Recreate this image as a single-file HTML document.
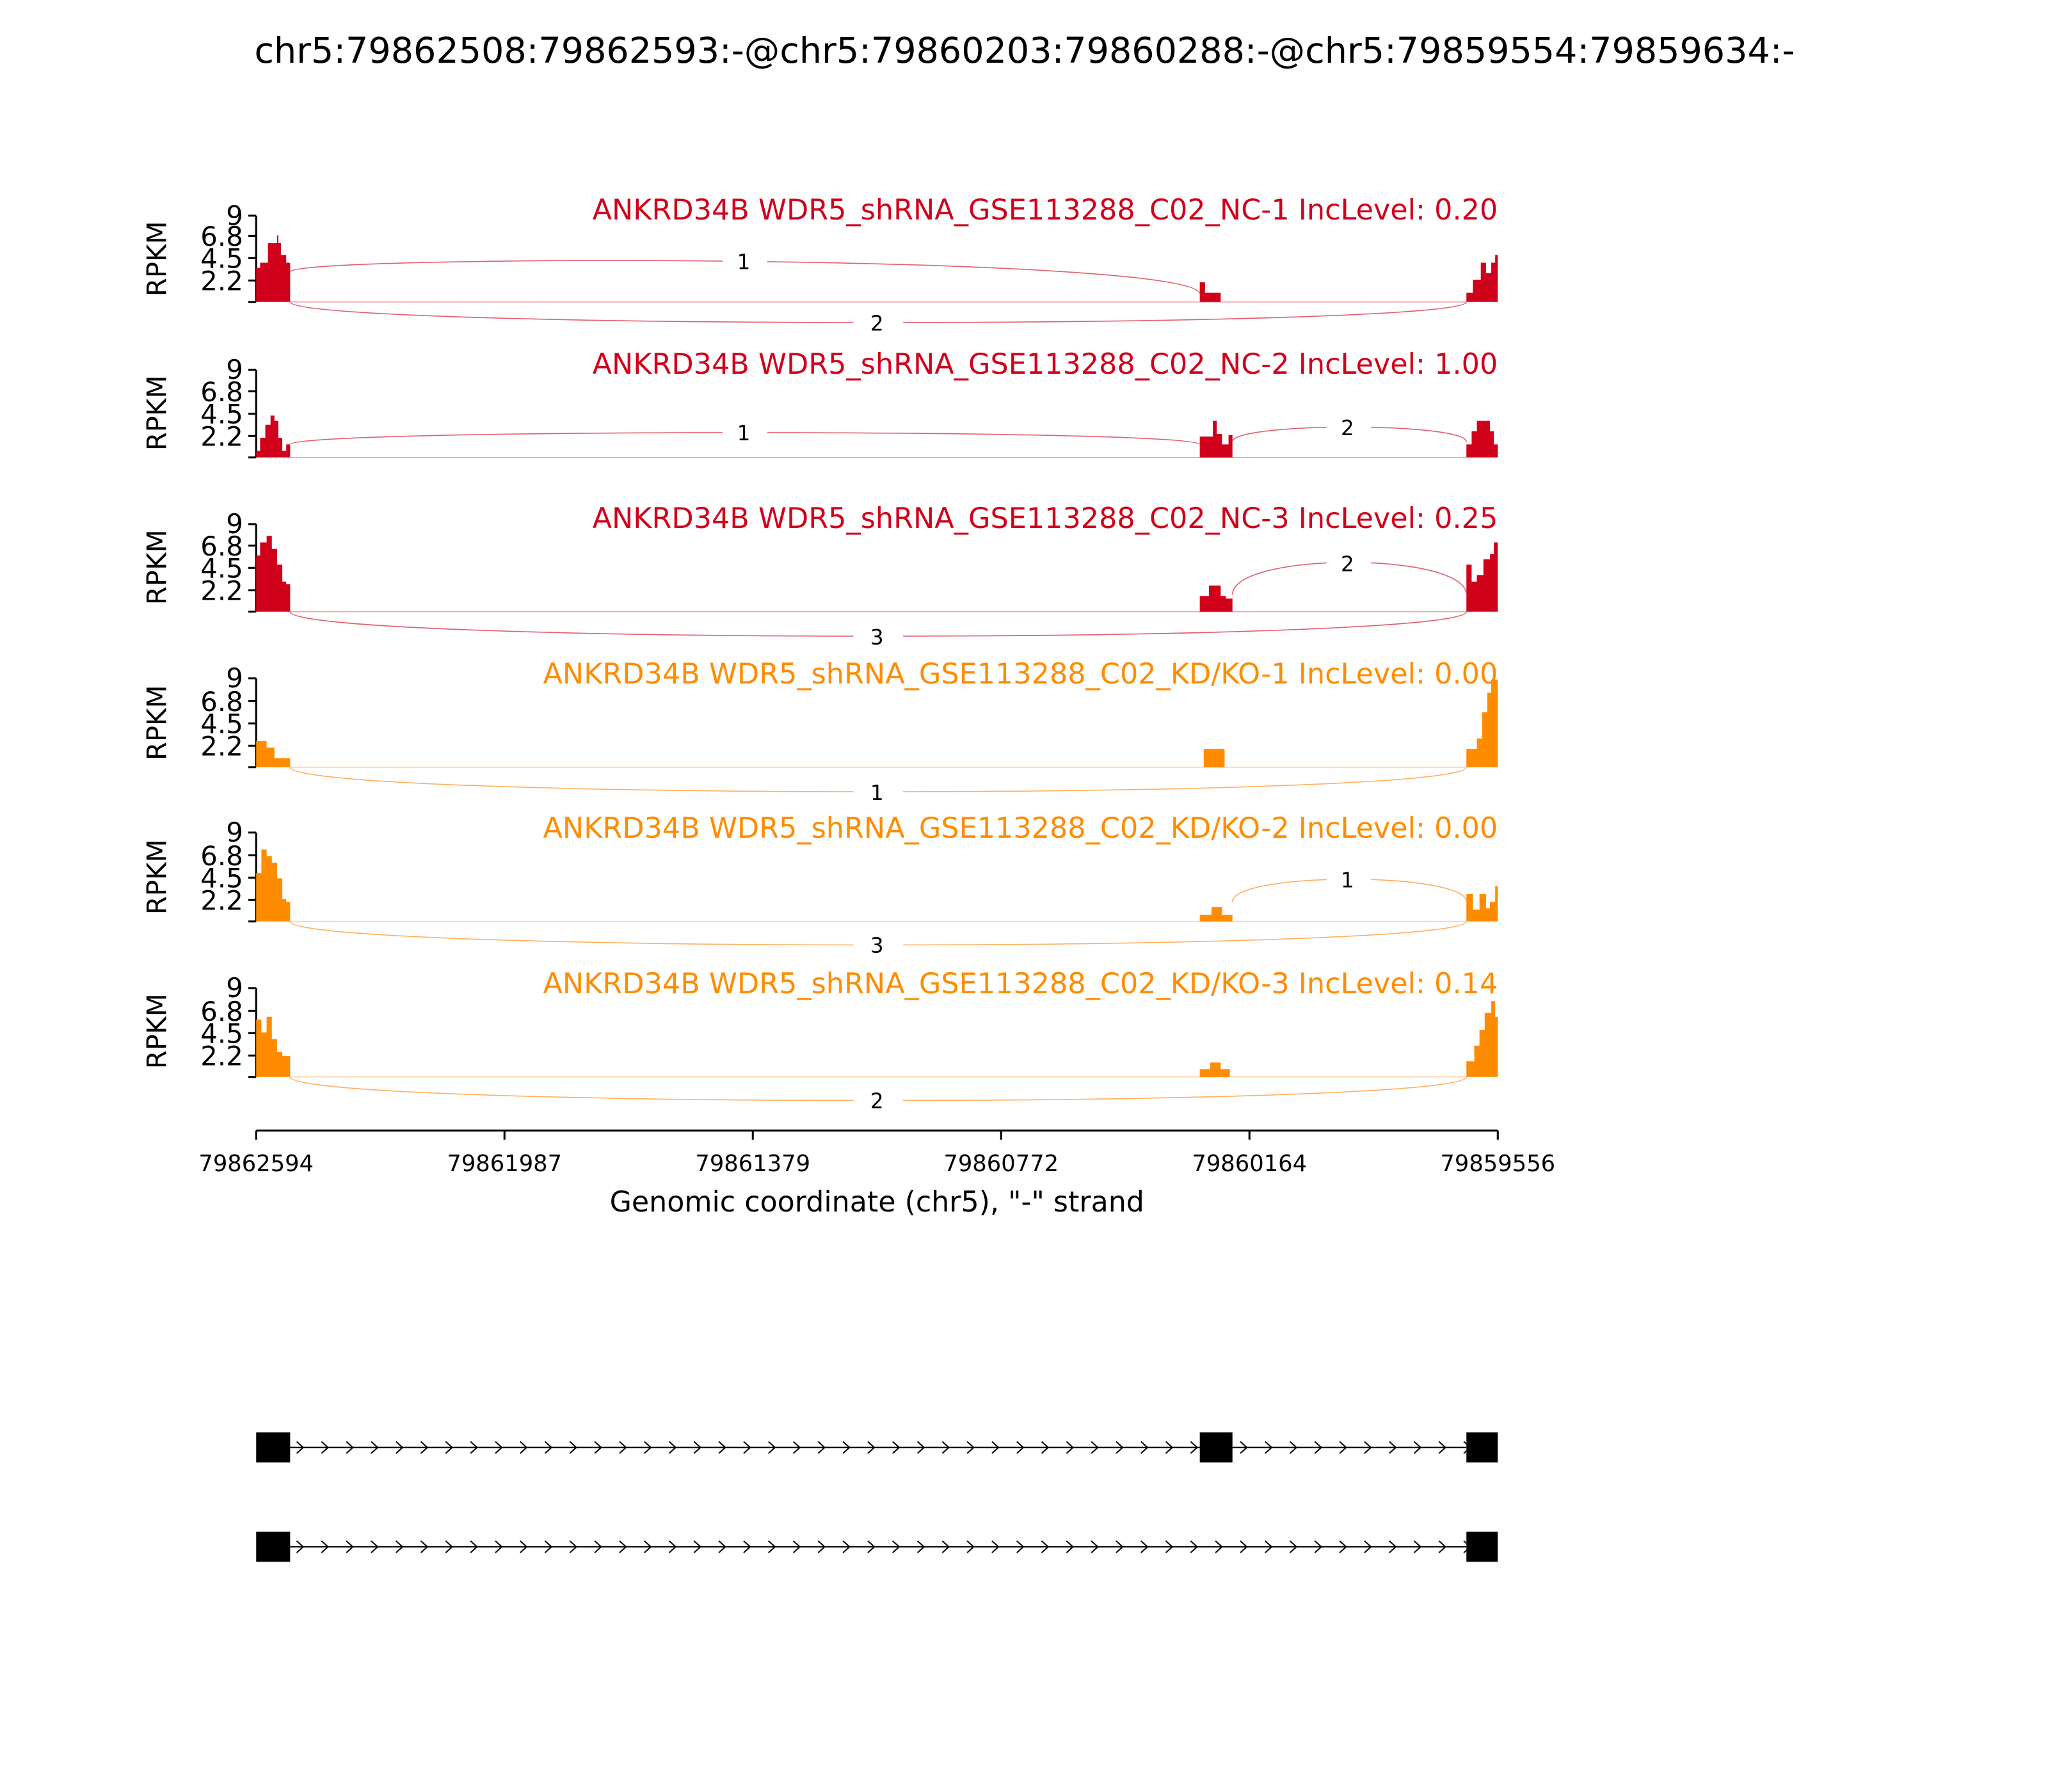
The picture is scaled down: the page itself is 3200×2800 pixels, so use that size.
<!DOCTYPE html>
<html><head><meta charset="utf-8"><style>html,body{margin:0;padding:0;background:#fff}svg{display:block}</style></head>
<body>
<svg width="3200" height="2800" viewBox="0 0 1567 1371.1" xmlns="http://www.w3.org/2000/svg" font-family="'DejaVu Sans','Liberation Sans',sans-serif">
<defs>
<pattern id="chev" x="222" y="0" width="19" height="1371.1" patternUnits="userSpaceOnUse">
<path d="M5 1103 L10 1107.5 L5 1112 M5 1179 L10 1183.5 L5 1188" fill="none" stroke="#000" stroke-width="1"/>
</pattern>
</defs>
<rect width="1567" height="1371.1" fill="#fff"/>
<text x="784" y="48" font-size="27.2" text-anchor="middle">chr5:79862508:79862593:-@chr5:79860203:79860288:-@chr5:79859554:79859634:-</text>

<g font-size="20.5">
<g stroke="#000" stroke-width="1.5" fill="none">
<path d="M196 165V231M190 165H196M190 214.6H196M190 197.5H196M190 180.4H196M190 231H196"/>
<path d="M196 283V350M190 283H196M190 333.6H196M190 316.5H196M190 299.4H196M190 350H196"/>
<path d="M196 401V468M190 401H196M190 451.6H196M190 434.5H196M190 417.4H196M190 468H196"/>
<path d="M196 519V587M190 519H196M190 570.6H196M190 553.5H196M190 536.4H196M190 587H196"/>
<path d="M196 637V705M190 637H196M190 688.6H196M190 671.5H196M190 654.4H196M190 705H196"/>
<path d="M196 756V824M190 756H196M190 807.6H196M190 790.5H196M190 773.4H196M190 824H196"/>
</g>
<g text-anchor="end">
<text x="186" y="172">9</text><text x="186" y="188">6.8</text><text x="186" y="205">4.5</text><text x="186" y="222">2.2</text>
<text x="186" y="290">9</text><text x="186" y="307">6.8</text><text x="186" y="324">4.5</text><text x="186" y="341">2.2</text>
<text x="186" y="408">9</text><text x="186" y="425">6.8</text><text x="186" y="442">4.5</text><text x="186" y="459">2.2</text>
<text x="186" y="526">9</text><text x="186" y="544">6.8</text><text x="186" y="561">4.5</text><text x="186" y="578">2.2</text>
<text x="186" y="644">9</text><text x="186" y="662">6.8</text><text x="186" y="679">4.5</text><text x="186" y="696">2.2</text>
<text x="186" y="763">9</text><text x="186" y="781">6.8</text><text x="186" y="798">4.5</text><text x="186" y="815">2.2</text>
</g>
<g text-anchor="middle">
<text transform="translate(127,198) rotate(-90)">RPKM</text>
<text transform="translate(127,316) rotate(-90)">RPKM</text>
<text transform="translate(127,434) rotate(-90)">RPKM</text>
<text transform="translate(127,553) rotate(-90)">RPKM</text>
<text transform="translate(127,671) rotate(-90)">RPKM</text>
<text transform="translate(127,789) rotate(-90)">RPKM</text>
</g>
<g text-anchor="end" font-size="21.8">
<text x="1146" y="168" fill="#d0021b">ANKRD34B WDR5_shRNA_GSE113288_C02_NC-1 IncLevel: 0.20</text>
<text x="1146" y="286" fill="#d0021b">ANKRD34B WDR5_shRNA_GSE113288_C02_NC-2 IncLevel: 1.00</text>
<text x="1146" y="404" fill="#d0021b">ANKRD34B WDR5_shRNA_GSE113288_C02_NC-3 IncLevel: 0.25</text>
<text x="1146" y="523" fill="#ff8c00">ANKRD34B WDR5_shRNA_GSE113288_C02_KD/KO-1 IncLevel: 0.00</text>
<text x="1146" y="641" fill="#ff8c00">ANKRD34B WDR5_shRNA_GSE113288_C02_KD/KO-2 IncLevel: 0.00</text>
<text x="1146" y="760" fill="#ff8c00">ANKRD34B WDR5_shRNA_GSE113288_C02_KD/KO-3 IncLevel: 0.14</text>
</g>
</g>

<g stroke-width="0.8" fill="none">
<path d="M222 231H1122M222 350H1122M222 468H1122" stroke="#f0a0a8"/>
<path d="M222 587H1122M222 705H1122M222 824H1122" stroke="#ffd0a0"/>
</g>

<g fill="#d0021b">
<path d="M196 231V205H199V201H205V186H212V180H213V186H215V195H219V201H222V231Z"/>
<path d="M918 231V216H922V224H934V231Z"/>
<path d="M1122 231V224H1127V214H1133V201H1137V209H1141V201H1144V195H1146V231Z"/>
<path d="M196 350V345H199V335H203V325H207V318H210V322H213V335H216V345H219V340H222V350Z"/>
<path d="M918 350V334H928V322H931V332H935V340H940V333H943V350Z"/>
<path d="M1122 350V340H1126V330H1130V322H1140V330H1143V340H1146V350Z"/>
<path d="M196 468V425H199V415H204V410H208V420H212V432H216V445H219V447H222V468Z"/>
<path d="M918 468V456H925V448H934V456H938V458H943V468Z"/>
<path d="M1122 468V432H1126V445H1130V440H1135V428H1140V424H1143V415H1146V468Z"/>
</g>
<g fill="#ff8c00">
<path d="M196 587V567H204V572H210V580H222V587Z"/>
<path d="M921 587V573H937V587Z"/>
<path d="M1122 587V573H1130V565H1134V545H1138V530H1141V520H1146V587Z"/>
<path d="M196 705V668H200V650H204V655H208V660H212V672H216V688H219V690H222V705Z"/>
<path d="M918 705V700H927V694H935V700H943V705Z"/>
<path d="M1122 705V684H1127V696H1132V684H1137V695H1140V690H1144V678H1146V705Z"/>
<path d="M196 824V780H200V790H204V778H208V795H212V805H216V808H222V824Z"/>
<path d="M918 824V818H926V813H934V818H941V824Z"/>
<path d="M1122 824V812H1128V800H1132V788H1136V775H1141V766H1144V778H1146V824Z"/>
</g>

<g fill="none" stroke-width="0.8">
<g stroke="#e06070">
<path d="M222 208C222 194.5 918 194.5 918 225"/>
<path d="M222 231C222 252 1122 252 1122 231"/>
<path d="M222 340C222 328 918 328 918 340"/>
<path d="M943 338C943 323 1122 323 1122 338"/>
<path d="M943 455C943 422 1122 422 1122 455"/>
<path d="M222 468C222 493 1122 493 1122 468"/>
</g>
<g stroke="#ffb060">
<path d="M222 587C222 612 1122 612 1122 587"/>
<path d="M943 690C943 667 1122 667 1122 690"/>
<path d="M222 705C222 729 1122 729 1122 705"/>
<path d="M222 824C222 848 1122 848 1122 824"/>
</g>
</g>
<g font-size="16" text-anchor="middle">
<rect x="553" y="189" width="34" height="22" fill="#fff"/><text x="569" y="206">1</text>
<rect x="653" y="236" width="38" height="22" fill="#fff"/><text x="671" y="253">2</text>
<rect x="553" y="320" width="34" height="22" fill="#fff"/><text x="569" y="337">1</text>
<rect x="1015" y="316" width="34" height="22" fill="#fff"/><text x="1031" y="333">2</text>
<rect x="1015" y="420" width="34" height="22" fill="#fff"/><text x="1031" y="437">2</text>
<rect x="653" y="476" width="38" height="22" fill="#fff"/><text x="671" y="493">3</text>
<rect x="653" y="595" width="38" height="22" fill="#fff"/><text x="671" y="612">1</text>
<rect x="1015" y="662" width="34" height="22" fill="#fff"/><text x="1031" y="679">1</text>
<rect x="653" y="712" width="38" height="22" fill="#fff"/><text x="671" y="729">3</text>
<rect x="653" y="831" width="38" height="22" fill="#fff"/><text x="671" y="848">2</text>
</g>

<g stroke="#000" stroke-width="1.5">
<path d="M196 865H1146M196 865V872M386 865V872M576 865V872M766 865V872M956 865V872M1146 865V872"/>
</g>
<g font-size="17.3" text-anchor="middle">
<text x="196" y="896">79862594</text><text x="386" y="896">79861987</text><text x="576" y="896">79861379</text>
<text x="766" y="896">79860772</text><text x="956" y="896">79860164</text><text x="1146" y="896">79859556</text>
</g>
<text x="671" y="927" font-size="21.7" text-anchor="middle">Genomic coordinate (chr5), "-" strand</text>

<path d="M222 1107.5H918M943 1107.5H1122M222 1183.5H1122" stroke="#000" stroke-width="1"/>
<rect x="222" y="1100" width="696" height="15" fill="url(#chev)"/>
<rect x="943" y="1100" width="179" height="15" fill="url(#chev)"/>
<rect x="222" y="1176" width="900" height="15" fill="url(#chev)"/>
<g fill="#000">
<rect x="196" y="1096" width="26" height="23"/><rect x="918" y="1096" width="25" height="23"/><rect x="1122" y="1096" width="24" height="23"/>
<rect x="196" y="1172" width="26" height="23"/><rect x="1122" y="1172" width="24" height="23"/>
</g>
</svg>
</body></html>
